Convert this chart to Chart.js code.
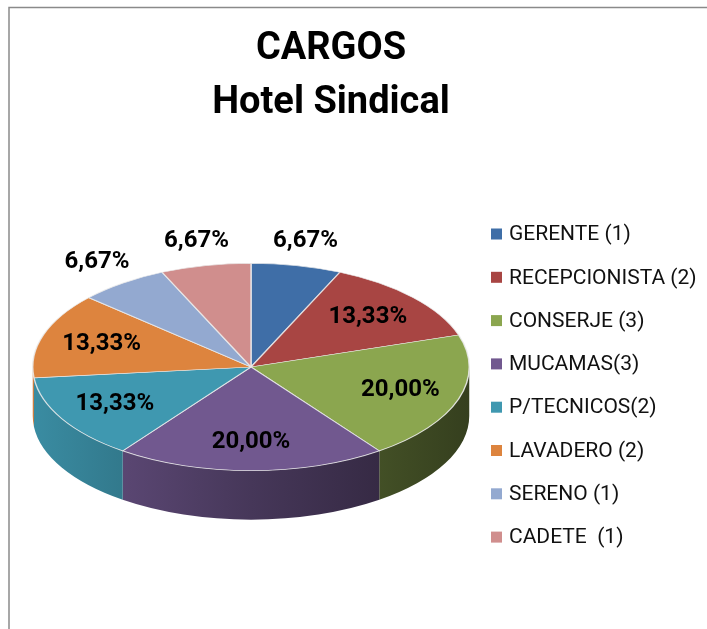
<!DOCTYPE html>
<html>
<head>
<meta charset="utf-8">
<script src="https://cdn.jsdelivr.net/npm/chart.js@4.4.0/dist/chart.umd.min.js"></script>
<style>
  html, body { margin: 0; padding: 0; background: #fff; }
  #wrap { width: 707px; height: 629px; }
</style>
</head>
<body>
<div id="wrap"><canvas id="myChart" width="707" height="629"></canvas></div>
<script>
// data block
const titleLines = ['CARGOS', 'Hotel Sindical'];
const labels = ['GERENTE (1)', 'RECEPCIONISTA (2)', 'CONSERJE (3)', 'MUCAMAS(3)',
                'P/TECNICOS(2)', 'LAVADERO (2)', 'SERENO (1)', 'CADETE  (1)'];
const values = [1, 2, 3, 3, 2, 2, 1, 1];
const colors = ['#3F6EA7', '#A84543', '#8BA64F', '#71588F',
                '#3F98B0', '#DD843E', '#93A9D0', '#D08E8D'];

const FONT = "Roboto, 'Liberation Sans', Arial, sans-serif";
const TILT = 0.475;   // vertical squash of the pie
const DEPTH = 49;     // px, height of the pie wall

function shade(hex, f) {
    const n = parseInt(hex.slice(1), 16);
    const r = Math.round(((n >> 16) & 255) * f);
    const g = Math.round(((n >> 8) & 255) * f);
    const b = Math.round((n & 255) * f);
    return `rgb(${r},${g},${b})`;
}

// squash the pie into an ellipse and draw its wall underneath
const pie3d = {
    id: 'pie3d',
    beforeDatasetsDraw(chart) {
        const ctx = chart.ctx;
        const arcs = chart.getDatasetMeta(0).data;
        const cx = arcs[0].x, cy = arcs[0].y, r = arcs[0].outerRadius;
        const d = DEPTH / TILT;
        ctx.save();
        ctx.translate(cx, cy);
        ctx.scale(1, TILT);
        ctx.translate(-cx, -cy);
        arcs.forEach((el, i) => {
            // front half of the circle only: angles 0..PI (or 2PI..3PI)
            [[0, Math.PI], [2 * Math.PI, 3 * Math.PI]].forEach(([lo, hi]) => {
                const s = Math.max(el.startAngle, lo);
                const e = Math.min(el.endAngle, hi);
                if (s >= e) return;
                const grad = ctx.createLinearGradient(cx - r, 0, cx + r, 0);
                grad.addColorStop(0, shade(colors[i], 0.92));
                grad.addColorStop(0.5, shade(colors[i], 0.62));
                grad.addColorStop(1, shade(colors[i], 0.38));
                ctx.beginPath();
                ctx.arc(cx, cy, r, s, e);
                ctx.lineTo(cx + r * Math.cos(e), cy + d + r * Math.sin(e));
                ctx.arc(cx, cy + d, r, e, s, true);
                ctx.closePath();
                ctx.fillStyle = grad;
                ctx.fill();
            });
        });
    },
    afterDatasetsDraw(chart) {
        const ctx = chart.ctx;
        ctx.restore();
        // percentage labels
        const arcs = chart.getDatasetMeta(0).data;
        const total = values.reduce((a, b) => a + b, 0);
        ctx.save();
        ctx.font = `bold 24px ${FONT}`;
        ctx.fillStyle = '#000';
        ctx.textAlign = 'center';
        ctx.textBaseline = 'middle';
        arcs.forEach((el, i) => {
            const frac = values[i] / total;
            const mid = (el.startAngle + el.endAngle) / 2;
            const outside = frac < 0.1;
            const f = outside ? 1.2 : 0.72;
            const x = el.x + el.outerRadius * f * Math.cos(mid);
            const y = el.y + el.outerRadius * f * Math.sin(mid) * TILT - (outside ? 4 : 0);
            const txt = (frac * 100).toFixed(2).replace('.', ',') + '%';
            ctx.fillText(txt, x, y);
        });
        ctx.restore();
    },
    afterDraw(chart) {
        const ctx = chart.ctx;
        ctx.save();
        // chart frame (left and top edges visible)
        ctx.strokeStyle = '#8a8a8a';
        ctx.lineWidth = 1.5;
        ctx.beginPath();
        ctx.moveTo(9, 629);
        ctx.lineTo(9, 7.5);
        ctx.lineTo(707, 7.5);
        ctx.stroke();
        // title
        ctx.fillStyle = '#000';
        ctx.textAlign = 'center';
        ctx.textBaseline = 'middle';
        ctx.font = `bold 38px ${FONT}`;
        ctx.fillText(titleLines[0], 331, 49);
        ctx.fillText(titleLines[1], 331, 103);
        // legend
        ctx.font = `21px ${FONT}`;
        ctx.textAlign = 'left';
        labels.forEach((lab, i) => {
            const y = 234 + i * 43.3;
            ctx.fillStyle = colors[i];
            ctx.fillRect(491, y - 5.5, 11, 11);
            ctx.fillStyle = '#111';
            ctx.fillText(lab, 509, y + 1);
        });
        ctx.restore();
    }
};

// config block
const config = {
    type: 'pie',
    data: {
        labels: labels,
        datasets: [{
            data: values,
            backgroundColor: colors,
            borderColor: 'rgba(235,235,235,0.85)',
            borderWidth: 1.5,
            clip: false
        }]
    },
    options: {
        responsive: false,
        animation: false,
        events: [],
        layout: {
            padding: { left: 32, right: 237, top: 148, bottom: 43 }
        },
        plugins: {
            legend: { display: false },
            title: { display: false },
            tooltip: { enabled: false }
        }
    },
    plugins: [pie3d]
};

// init render block
const ctx = document.getElementById('myChart');
const myChart = new Chart(ctx, config);
</script>
</body>
</html>
